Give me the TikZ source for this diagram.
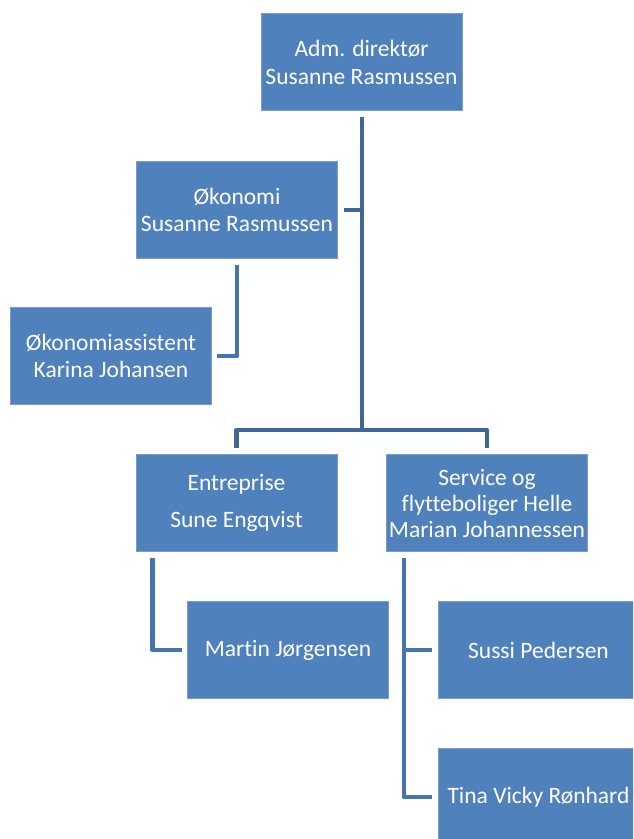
\documentclass[tikz,border=0pt]{standalone}
\usepackage{fontspec}
\setmainfont[Ligatures={NoCommon}]{Carlito}
\definecolor{boxfill}{HTML}{4F81BD}
\definecolor{boxline}{HTML}{7A9CCB}
\definecolor{linkA}{HTML}{3F6797}
\definecolor{linkB}{HTML}{4674AE}
\begin{document}
\begin{tikzpicture}[x=1pt,y=-1pt,
  orgbox/.style={draw=boxline, line width=0.8pt, fill=boxfill, text=white,
    minimum width=201pt, minimum height=97pt, inner sep=0pt, align=center,
    font=\fontsize{23.5}{27}\selectfont},
  linka/.style={draw=linkA, line width=4.8pt, line join=round, line cap=butt},
  linkb/.style={draw=linkB, line width=4.6pt, line join=round, line cap=butt}]
\useasboundingbox (0,0) rectangle (633,839);
\begin{scope}
\clip (0,0) rectangle (633,839);
\node[orgbox] (top) at (361.5,62) {Adm. direktør\\[1pt]Susanne Rasmussen};
\node[orgbox] (okon) at (237,210) {Økonomi\\Susanne Rasmussen};
\node[orgbox] (asst) at (111,356) {Økonomiassistent\\Karina Johansen};
\node[orgbox] (entr) at (236.5,503) {Entreprise\\[10pt]Sune Engqvist};
\node[orgbox] (serv) at (487,503) {Service og\\[-1pt]flytteboliger Helle\\[-1pt]Marian Johannessen};
\node[orgbox] (mart) at (288,650) {Martin Jørgensen};
\node[orgbox] (suss) at (538.5,650) {Sussi Pedersen};
\node[orgbox] (tina) at (538.5,797) {Tina Vicky Rønhard};
\end{scope}
\coordinate (bus) at (362,430);
\draw[linka] ([yshift=-6pt]top.south -| bus) -- (bus);
\draw[linka] ([xshift=6pt]okon.east) -- (okon.east -| bus);
\draw[linka] ([yshift=6pt]entr.north) |- (bus -| serv.north) -- ([yshift=6pt]serv.north);
\draw[linkb] ([yshift=-6pt]okon.south) |- ([xshift=5pt]asst.east);
\draw[linkb] ([xshift=17pt,yshift=-6pt]entr.south west) |- ([xshift=-5pt]mart.west);
\draw[linkb] ([xshift=18pt,yshift=-6pt]serv.south west) |- ([xshift=-6pt]tina.west);
\draw[linkb] ([xshift=18pt]serv.south west |- suss.west) -- ([xshift=-6pt]suss.west);
\end{tikzpicture}
\end{document}
